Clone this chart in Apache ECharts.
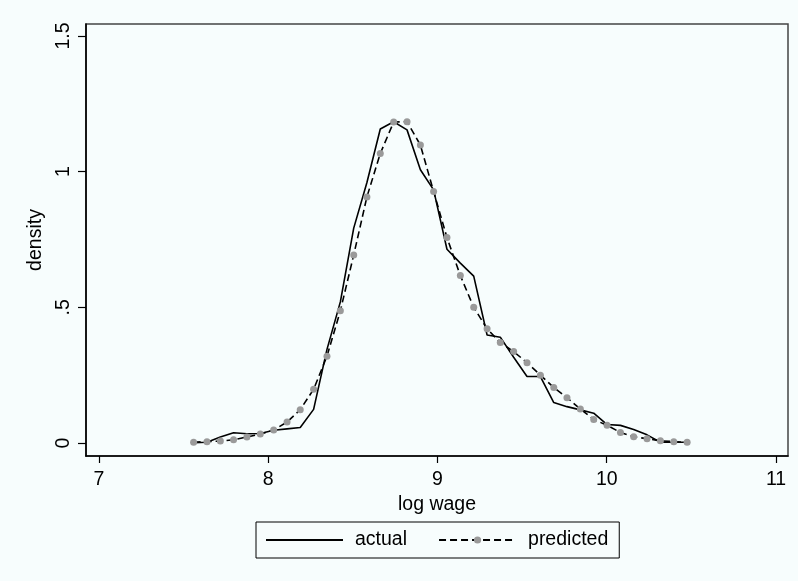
<!DOCTYPE html>
<html>
<head>
<meta charset="utf-8">
<script src="https://cdn.jsdelivr.net/npm/echarts@6/dist/echarts.min.js"></script>
<style>
html,body{margin:0;padding:0;background:#f7fdfd;}
#chart{width:798px;height:581px;}
</style>
</head>
<body>
<div id="chart"></div>
<script>
// log wage grid (bin midpoints)
var logWage = [7.559, 7.638, 7.717, 7.795, 7.874, 7.953, 8.032, 8.111, 8.189, 8.268,
  8.347, 8.426, 8.505, 8.583, 8.662, 8.741, 8.820, 8.899, 8.977, 9.056,
  9.135, 9.214, 9.293, 9.371, 9.450, 9.529, 9.608, 9.687, 9.765, 9.844,
  9.923, 10.002, 10.081, 10.159, 10.238, 10.317, 10.396, 10.475];
var actualDensity = [0.001, 0.003, 0.022, 0.038, 0.034, 0.035, 0.047, 0.052, 0.057, 0.124,
  0.345, 0.520, 0.792, 0.960, 1.157, 1.184, 1.154, 1.007, 0.933, 0.714,
  0.663, 0.615, 0.398, 0.390, 0.316, 0.245, 0.245, 0.149, 0.134, 0.122,
  0.110, 0.068, 0.065, 0.050, 0.030, 0.003, 0.003, 0.003];
var predictedDensity = [0.003, 0.005, 0.007, 0.012, 0.022, 0.033, 0.048, 0.077, 0.123, 0.198,
  0.320, 0.487, 0.693, 0.907, 1.067, 1.183, 1.184, 1.098, 0.927, 0.757,
  0.617, 0.500, 0.421, 0.370, 0.337, 0.296, 0.250, 0.205, 0.167, 0.125,
  0.087, 0.065, 0.039, 0.023, 0.016, 0.008, 0.005, 0.003];
var xTicks = [7, 8, 9, 10, 11];
var yTicks = [0, 0.5, 1, 1.5];
var yTickLabels = ['0', '.5', '1', '1.5'];
var seriesNames = ['actual', 'predicted'];

function pairs(xs, ys) { return xs.map(function (x, i) { return [x, ys[i]]; }); }

var FONT = '"Liberation Sans", Arial, Helvetica, sans-serif';
var chart = echarts.init(document.getElementById('chart'), null, {renderer: 'canvas'});
chart.setOption({
  animation: false,
  backgroundColor: '#f7fdfd',
  textStyle: {fontFamily: FONT, color: '#000'},
  grid: {left: 86, top: 24, right: 10, bottom: 125, show: true, borderColor: '#444', borderWidth: 1.5, backgroundColor: 'transparent'},
  xAxis: {
    type: 'value', min: 6.9232, max: 11.0709,
    name: 'log wage', nameLocation: 'middle', nameGap: 34,
    nameTextStyle: {fontSize: 19.5, color: '#000', fontFamily: FONT},
    axisLine: {show: true, onZero: false, lineStyle: {color: '#000', width: 1.6}},
    axisTick: {show: true, length: 7, customValues: xTicks, lineStyle: {color: '#000', width: 1.2}},
    axisLabel: {show: true, customValues: xTicks, margin: 14, fontSize: 19.5, color: '#000', fontFamily: FONT},
    splitLine: {show: false}
  },
  yAxis: {
    type: 'value', min: -0.0479, max: 1.5442,
    name: 'density', nameLocation: 'middle', nameGap: 35,
    nameTextStyle: {fontSize: 19.5, color: '#000', fontFamily: FONT},
    axisLine: {show: true, onZero: false, lineStyle: {color: '#000', width: 1.6}},
    axisTick: {show: true, length: 8, customValues: yTicks, lineStyle: {color: '#000', width: 1.2}},
    axisLabel: {show: true, customValues: yTicks, rotate: 90, margin: 12, fontSize: 19.5, color: '#000', fontFamily: FONT,
      formatter: function (v) { var i = yTicks.indexOf(v); return i >= 0 ? yTickLabels[i] : ''; }},
    splitLine: {show: false}
  },
  legend: {
    data: [
      {name: seriesNames[0], itemStyle: {color: 'rgba(0,0,0,0)', opacity: 0, borderWidth: 0}},
      {name: seriesNames[1]}
    ],
    left: 256, top: 522,
    orient: 'horizontal',
    padding: [8, 11, 8, 9],
    itemGap: 31,
    itemWidth: 77, itemHeight: 9,
    borderColor: '#000', borderWidth: 1,
    backgroundColor: 'transparent',
    textStyle: {fontSize: 19.5, color: '#000', fontFamily: FONT, padding: [0, 0, 0, 7]}
  },
  series: [
    {
      name: seriesNames[0], type: 'line', data: pairs(logWage, actualDensity),
      symbol: 'none', showSymbol: false,
      lineStyle: {color: '#000', width: 1.6, type: 'solid'},
      itemStyle: {color: '#000'}
    },
    {
      name: seriesNames[1], type: 'line', data: pairs(logWage, predictedDensity),
      symbol: 'circle', symbolSize: 7, showSymbol: true,
      lineStyle: {color: '#000', width: 1.6, type: [7, 4]},
      itemStyle: {color: '#9a9a9a', borderWidth: 0}
    }
  ]
});
</script>
</body>
</html>
